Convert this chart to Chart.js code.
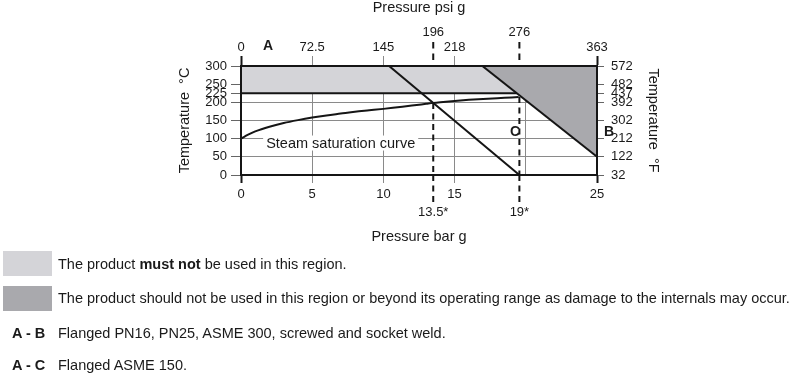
<!DOCTYPE html>
<html><head><meta charset="utf-8">
<script src="https://cdn.jsdelivr.net/npm/chart.js@4/dist/chart.umd.min.js"></script>
<style>
html,body{margin:0;padding:0;background:#fff;}
#wrap{position:relative;width:800px;height:383px;font-family:"Liberation Sans",Arial,sans-serif;color:#1a1a1a;overflow:hidden;}
#wrap canvas{position:absolute;left:0;top:0;}
.sw{position:absolute;left:3px;width:49px;height:25px;}
.lt{position:absolute;font-size:14.5px;line-height:16px;white-space:nowrap;}
</style></head><body>
<div id="wrap">
<canvas id="c" width="800" height="383"></canvas>
<div class="sw" style="top:251px;background:#d4d4d8"></div>
<div class="lt" style="left:58px;top:256px">The product <b>must not</b> be used in this region.</div>
<div class="sw" style="top:286px;background:#a9a9ad"></div>
<div class="lt" style="left:58px;top:290px">The product should not be used in this region or beyond its operating range as damage to the internals may occur.</div>
<div class="lt" style="left:12px;top:325px"><b>A - B</b></div>
<div class="lt" style="left:58px;top:325px">Flanged PN16, PN25, ASME 300, screwed and socket weld.</div>
<div class="lt" style="left:12px;top:357px"><b>A - C</b></div>
<div class="lt" style="left:58px;top:357px">Flanged ASME 150.</div>
</div>
<script>
// ---- data ----
const pressureBarTicks = [0, 5, 10, 13.5, 15, 19.55, 20, 25];
const pressureBarLabels = ['0', '5', '10', ['', '13.5*'], '15', ['', '19*'], '', '25'];
const pressurePsiTicks = [0, 5, 10, 13.5, 15, 19.55, 25];
const pressurePsiLabels = ['0', '72.5', '145', ['196', ''], '218', ['276', ''], '363'];
const tempCTicks = [0, 50, 100, 150, 200, 225, 250, 300];
const tempCLabels = ['0', '50', '100', '150', '200', '225', '250', '300'];
const tempFLabels = ['32', '122', '212', '302', '392', '437', '482', '572'];
const gridBar = [5, 10, 15, 20];
const gridTempC = [50, 100, 150, 200];
const dashedBar = [13.5, 19.55];
const dashedTopTemp = [198.5, 214.5];
const satBar  = [0, 0.5, 1, 2, 3, 4, 5, 6, 7, 8, 9, 10, 11, 12, 13, 13.5, 14, 15, 16, 17, 18, 19, 19.5];
const satTemp = [100, 111, 120, 133, 143, 151, 158, 164, 169, 174, 178, 182, 186.5, 191, 196, 198.5, 200.5, 204, 207, 209.5, 211.5, 213.5, 214.5];
const lightBandBar  = [0, 16.95, 19.37];
const lightBandTemp = [300, 300, 225];
const abLimitBar  = [16.95, 25];
const abLimitTemp = [300, 50];
const acLimitBar  = [10.4, 19.55];
const acLimitTemp = [300, 0];
const line225Bar  = [0, 19.37];
const line225Temp = [225, 225];

const pts = (xs, ys) => xs.map((x, i) => ({x: x, y: ys[i]}));
const INK = '#151515', GRID = '#8a8a8a', LIGHT = '#d4d4d8', DARK = '#a9a9ad';
Chart.defaults.font.family = '"Liberation Sans", Arial, sans-serif';
Chart.defaults.color = '#1a1a1a';

const notes = [
  {text: 'A', x: 1.9, dy: -19.5, top: true},
  {text: 'B', x: 25.85, y: 119},
  {text: 'C', x: 19.25, y: 119}
];

const overlay = {
  id: 'overlay',
  afterDraw(chart) {
    const ctx = chart.ctx, xs = chart.scales.x, ys = chart.scales.y, a = chart.chartArea;
    ctx.save();
    ctx.strokeStyle = INK; ctx.lineWidth = 2;
    dashedBar.forEach(v => {
      const px = xs.getPixelForValue(v);
      ctx.setLineDash([6.5, 5]);
      ctx.beginPath(); ctx.moveTo(px, a.top - 24); ctx.lineTo(px, a.top - 5); ctx.stroke();
      ctx.setLineDash([6, 4.5]);
      ctx.beginPath(); ctx.moveTo(px, a.bottom); ctx.lineTo(px, a.bottom + 28); ctx.stroke();
    });
    ctx.setLineDash([]);
    // steam label
    ctx.font = '14.5px "Liberation Sans", Arial, sans-serif';
    const t = 'Steam saturation curve';
    const cx = xs.getPixelForValue(7.0), cy = ys.getPixelForValue(88);
    const w = ctx.measureText(t).width;
    ctx.fillStyle = '#fff';
    ctx.fillRect(cx - w / 2 - 3, cy - 7.5, w + 6, 15);
    ctx.fillStyle = '#1a1a1a'; ctx.textAlign = 'center'; ctx.textBaseline = 'middle';
    ctx.fillText(t, cx, cy + 0.5);
    ctx.font = 'bold 14px "Liberation Sans", Arial, sans-serif';
    notes.forEach(n => {
      const px = xs.getPixelForValue(n.x);
      const py = n.top ? a.top + n.dy : ys.getPixelForValue(n.y);
      ctx.fillText(n.text, px, py);
    });
    ctx.restore();
  }
};

const lineDs = (data, extra) => Object.assign({data: data, borderColor: INK, borderWidth: 2, pointRadius: 0, fill: false, order: 1}, extra || {});
const titleFont = {size: 14.5, lineHeight: 1.16};

new Chart(document.getElementById('c'), {
  type: 'line',
  data: {
    datasets: [
      lineDs(pts(lightBandBar, lightBandTemp), {fill: {value: 225}, backgroundColor: LIGHT, borderWidth: 0, order: 10}),
      lineDs(pts(abLimitBar, abLimitTemp), {fill: 'end', backgroundColor: DARK, order: 9}),
      lineDs(pts(line225Bar, line225Temp)),
      lineDs(pts(acLimitBar, acLimitTemp)),
      lineDs(pts(satBar, satTemp), {cubicInterpolationMode: 'monotone'}),
      lineDs([{x: dashedBar[0], y: dashedTopTemp[0]}, {x: dashedBar[0], y: 0}], {borderDash: [6, 4.5]}),
      lineDs([{x: dashedBar[1], y: dashedTopTemp[1]}, {x: dashedBar[1], y: 0}], {borderDash: [6, 4.5]})
    ]
  },
  options: {
    responsive: false,
    animation: false,
    events: [],
    layout: {autoPadding: false, padding: {left: 177, right: 138.6, top: 0, bottom: 137.3}},
    plugins: {legend: {display: false}, tooltip: {enabled: false}},
    scales: {
      x: {
        type: 'linear', position: 'bottom', min: 0, max: 25,
        afterBuildTicks: s => { s.ticks = pressureBarTicks.map(v => ({value: v})); },
        afterFit: s => { s.height = 70.7; },
        ticks: {autoSkip: false, maxRotation: 0, padding: 2.3, font: {size: 13, lineHeight: 1.385},
                callback: (v, i) => pressureBarLabels[i]},
        grid: {
          color: c => gridBar.includes(c.tick && c.tick.value) ? GRID : 'rgba(0,0,0,0)',
          tickColor: c => { const v = c.tick && c.tick.value; return (v === 0 || v === 25) ? INK : ([5, 10, 15].includes(v) ? GRID : 'rgba(0,0,0,0)'); },
          tickWidth: c => { const v = c.tick && c.tick.value; return (v === 0 || v === 25) ? 2 : 1; },
          tickLength: 8, lineWidth: 1
        },
        border: {display: true, color: INK, width: 2, z: 1},
        title: {display: true, text: 'Pressure bar g', font: titleFont, padding: 0}
      },
      x2: {
        type: 'linear', position: 'top', min: 0, max: 25,
        afterBuildTicks: s => { s.ticks = pressurePsiTicks.map(v => ({value: v})); },
        afterFit: s => { s.height = 66; },
        ticks: {autoSkip: false, maxRotation: 0, padding: 0.7, font: {size: 13, lineHeight: 1.154},
                callback: (v, i) => pressurePsiLabels[i]},
        grid: {
          drawOnChartArea: false,
          tickColor: c => { const v = c.tick && c.tick.value; return (v === 0 || v === 25) ? INK : (dashedBar.includes(v) ? 'rgba(0,0,0,0)' : GRID); },
          tickWidth: c => { const v = c.tick && c.tick.value; return (v === 0 || v === 25) ? 2 : 1; },
          tickLength: 10
        },
        border: {display: true, color: INK, width: 2, z: 1},
        title: {display: true, text: 'Pressure psi g', font: titleFont, padding: 0}
      },
      y: {
        type: 'linear', position: 'left', min: 0, max: 300,
        afterBuildTicks: s => { s.ticks = tempCTicks.map(v => ({value: v})); },
        afterFit: s => { s.width = 64; },
        ticks: {autoSkip: false, padding: 4, font: {size: 13}, callback: (v, i) => tempCLabels[i]},
        grid: {
          color: c => gridTempC.includes(c.tick && c.tick.value) ? GRID : 'rgba(0,0,0,0)',
          tickColor: '#666', tickLength: 10, lineWidth: 1
        },
        border: {display: true, color: INK, width: 2, z: 1},
        title: {display: true, text: 'Temperature  °C', font: titleFont, padding: 0}
      },
      y2: {
        type: 'linear', position: 'right', min: 0, max: 300,
        afterBuildTicks: s => { s.ticks = tempCTicks.map(v => ({value: v})); },
        afterFit: s => { s.width = 64.4; },
        ticks: {autoSkip: false, padding: 7, font: {size: 13}, callback: (v, i) => tempFLabels[i]},
        grid: {drawOnChartArea: false, tickColor: '#666', tickLength: 7},
        border: {display: true, color: INK, width: 2, z: 1},
        title: {display: true, text: 'Temperature  °F', font: titleFont, padding: 0}
      }
    }
  },
  plugins: [overlay]
});
</script>
</body></html>
